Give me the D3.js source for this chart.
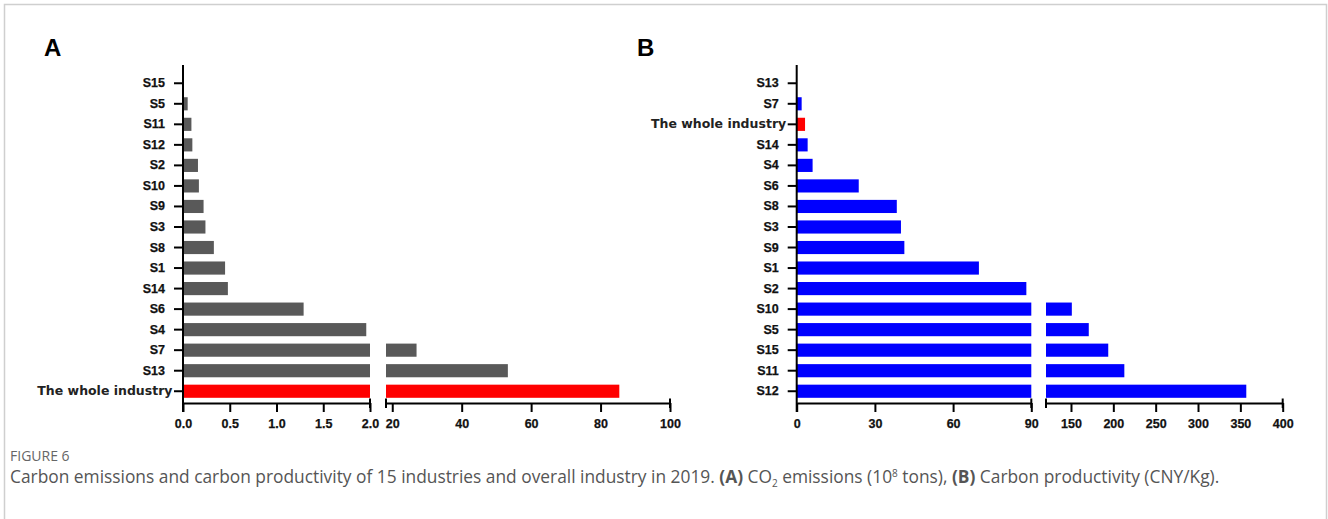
<!DOCTYPE html>
<html>
<head>
<meta charset="utf-8">
<script src="https://cdn.jsdelivr.net/npm/d3@7"></script>
<style>
  body { margin: 0; background: #fff; }
  svg { display: block; }
</style>
</head>
<body>
<svg id="fig" width="1328" height="519"></svg>
<script>
// Panel A: CO2 emissions by industry (10^8 tons)
const categoriesA = ["S15", "S5", "S11", "S12", "S2", "S10", "S9", "S3", "S8", "S1", "S14", "S6", "S4", "S7", "S13", "The whole industry"];
const emissionsA  = [0, 0.05, 0.09, 0.10, 0.16, 0.17, 0.22, 0.24, 0.33, 0.45, 0.48, 1.29, 1.96, 27.0, 53.3, 85.4];

// Panel B: carbon productivity by industry (CNY/Kg)
const categoriesB   = ["S13", "S7", "The whole industry", "S14", "S4", "S6", "S8", "S3", "S9", "S1", "S2", "S10", "S5", "S15", "S11", "S12"];
const productivityB = [0, 1.9, 3.2, 4.2, 6.1, 23.8, 38.4, 40.0, 41.3, 69.9, 88.1, 151, 171, 194, 213, 357];

// Broken x-axes: lower and upper segments with their tick labels
const ticksALow  = [0, 0.5, 1.0, 1.5, 2.0];
const ticksAHigh = [20, 40, 60, 80, 100];
const ticksBLow  = [0, 30, 60, 90];
const ticksBHigh = [150, 200, 250, 300, 350, 400];

const WHOLE = "The whole industry";

const svg = d3.select("#fig");
svg.append("rect").attr("width", 1328).attr("height", 519).attr("fill", "#fff");

// figure frame (open at the bottom)
svg.append("path")
  .attr("d", "M4.5,519V4.5H1326.5V519")
  .attr("fill", "none").attr("stroke", "#cfcfcf").attr("stroke-width", 1.5);

const AXIS_Y = 403;      // baseline of the x-axis
const TOP_Y = 65;        // top of the category axis

function drawPanel(cfg) {
  const g = svg.append("g");

  const y = d3.scaleBand()
    .domain(cfg.categories)
    .range([73, 401.5])
    .paddingInner(0.36)
    .paddingOuter(0.18);

  const xLow = d3.scaleLinear().domain(cfg.lowDomain).range(cfg.lowRange);
  const xHigh = d3.scaleLinear().domain(cfg.highDomain).range(cfg.highRange);
  const lowMax = cfg.lowDomain[1];
  const highMin = cfg.highDomain[0];

  const rows = cfg.categories.map((c, i) => ({ c, v: cfg.values[i] }));
  const fill = d => d.c === WHOLE ? "#ff0000" : cfg.color;

  // lower-segment bars
  g.append("g").selectAll("rect").data(rows).join("rect")
    .attr("x", xLow(0))
    .attr("y", d => y(d.c))
    .attr("width", d => Math.max(0, xLow(Math.min(d.v, lowMax)) - xLow(0)))
    .attr("height", y.bandwidth())
    .attr("fill", fill);

  // upper-segment bars for values past the break
  g.append("g").selectAll("rect").data(rows.filter(d => d.v > lowMax)).join("rect")
    .attr("x", xHigh(highMin))
    .attr("y", d => y(d.c))
    .attr("width", d => xHigh(d.v) - xHigh(highMin))
    .attr("height", y.bandwidth())
    .attr("fill", fill);

  const axisStyle = sel => {
    sel.selectAll("path, line").attr("stroke", "#000").attr("stroke-width", 2);
    sel.selectAll("text")
      .attr("fill", "#111")
      .attr("stroke", "#111").attr("stroke-width", 0.25)
      .style("font-family", "'Liberation Sans', Arial, sans-serif")
      .style("font-weight", "bold")
      .style("font-size", "12.5px");
  };

  // x-axis, lower segment
  const gxL = g.append("g").attr("transform", `translate(0,${AXIS_Y})`)
    .call(d3.axisBottom(xLow).tickValues(cfg.lowTicks).tickFormat(cfg.lowFormat)
      .tickSize(9).tickSizeOuter(0).tickPadding(7));
  axisStyle(gxL);

  // x-axis, upper segment
  const gxH = g.append("g").attr("transform", `translate(0,${AXIS_Y})`)
    .call(d3.axisBottom(xHigh).tickValues(cfg.highTicks).tickFormat(d3.format("d"))
      .tickSize(9).tickSizeOuter(0).tickPadding(7));
  axisStyle(gxH);

  // end caps on both sides of the axis break and at the far end
  [cfg.lowRange[1], cfg.highRange[0], cfg.highRange[1]].forEach(px => {
    g.append("line")
      .attr("x1", px).attr("x2", px)
      .attr("y1", AXIS_Y - 4.5).attr("y2", AXIS_Y + 5)
      .attr("stroke", "#000").attr("stroke-width", 2);
  });

  // category axis
  const gy = g.append("g").attr("transform", `translate(${cfg.lowRange[0]},0)`)
    .call(d3.axisLeft(y).tickSize(9).tickPadding(9).tickSizeOuter(0));
  gy.select(".domain").remove();
  axisStyle(gy);
  gy.selectAll(".tick").filter(d => d === WHOLE).select("text")
    .attr("x", -10.5)
    .attr("fill", "#222").attr("stroke", "none")
    .style("font-family", "'DejaVu Sans', Verdana, sans-serif")
    .style("font-size", "12.5px");

  g.append("line")
    .attr("x1", cfg.lowRange[0]).attr("x2", cfg.lowRange[0])
    .attr("y1", TOP_Y).attr("y2", AXIS_Y + 9)
    .attr("stroke", "#000").attr("stroke-width", 2);

  // panel letter
  svg.append("text")
    .attr("x", cfg.letterX).attr("y", 56)
    .attr("fill", "#000")
    .style("font-family", "'Liberation Sans', Arial, sans-serif")
    .style("font-weight", "bold")
    .style("font-size", "24px")
    .text(cfg.letter);
}

drawPanel({
  letter: "A", letterX: 44,
  categories: categoriesA, values: emissionsA, color: "#595959",
  lowDomain: [0, 2], lowRange: [183, 370],
  highDomain: [18.2, 100], highRange: [386, 670],
  lowTicks: ticksALow, highTicks: ticksAHigh,
  lowFormat: d3.format(".1f")
});

drawPanel({
  letter: "B", letterX: 637,
  categories: categoriesB, values: productivityB, color: "#0000ff",
  lowDomain: [0, 90], lowRange: [796.7, 1031.3],
  highDomain: [120.5, 400], highRange: [1046, 1282.7],
  lowTicks: ticksBLow, highTicks: ticksBHigh,
  lowFormat: d3.format("d")
});

// caption
svg.append("text")
  .attr("x", 10).attr("y", 461)
  .attr("fill", "#666")
  .style("font-family", "'Open Sans', 'Noto Sans', sans-serif")
  .style("font-size", "14px")
  .text("FIGURE 6");

const cap = svg.append("text")
  .attr("x", 10).attr("y", 483)
  .attr("fill", "#555")
  .style("font-family", "'Open Sans', 'Noto Sans', sans-serif")
  .style("font-size", "14.5px");
cap.append("tspan").text("Carbon emissions and carbon productivity of 15 industries and overall industry in 2019. ");
cap.append("tspan").style("font-weight", "bold").text("(A)");
cap.append("tspan").text(" CO");
cap.append("tspan").attr("dy", 4).style("font-size", "10px").text("2");
cap.append("tspan").attr("dy", -4).text(" emissions (10");
cap.append("tspan").attr("dy", -6).style("font-size", "10px").text("8");
cap.append("tspan").attr("dy", 6).text(" tons), ");
cap.append("tspan").style("font-weight", "bold").text("(B)");
cap.append("tspan").text(" Carbon productivity (CNY/Kg).");

// fit caption to its line width
const capWidth = cap.node().getComputedTextLength();
const targetWidth = 1212;
cap.style("font-size", (14.5 * targetWidth / capWidth).toFixed(2) + "px");
</script>
</body>
</html>
